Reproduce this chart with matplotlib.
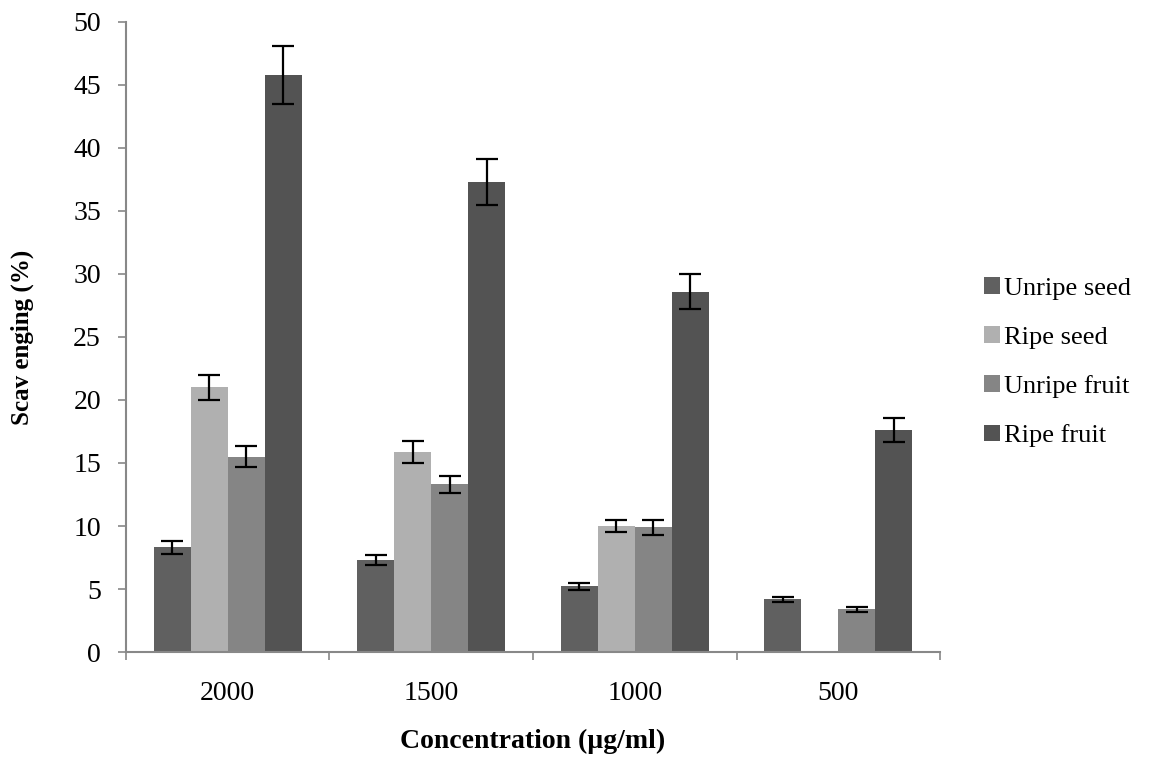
import numpy as np
import matplotlib
matplotlib.use('Agg')
import matplotlib.pyplot as plt

# Данные
concentrations = ['2000', '1500', '1000', '500']
series_names = ['Unripe seed', 'Ripe seed', 'Unripe fruit', 'Ripe fruit']
unripe_seed = [8.3, 7.3, 5.2, 4.2]
ripe_seed = [21.0, 15.9, 10.0, 0.0]
unripe_fruit = [15.5, 13.3, 9.9, 3.4]
ripe_fruit = [45.8, 37.3, 28.6, 17.6]
err_unripe_seed = [0.5, 0.4, 0.3, 0.2]
err_ripe_seed = [1.0, 0.87, 0.5, 0.0]
err_unripe_fruit = [0.85, 0.66, 0.58, 0.2]
err_ripe_fruit = [2.3, 1.8, 1.4, 0.94]

values = [unripe_seed, ripe_seed, unripe_fruit, ripe_fruit]
errors = [err_unripe_seed, err_ripe_seed, err_unripe_fruit, err_ripe_fruit]
colors = ['#606060', '#b0b0b0', '#858585', '#535353']

plt.rcParams['font.family'] = ['Liberation Serif', 'DejaVu Serif']

fig = plt.figure(figsize=(11.55, 7.61), dpi=100)
ax = fig.add_axes([0.109, 0.1432, 0.705, 0.828])

x = np.arange(len(concentrations))
width = 0.182
for i in range(len(series_names)):
    pos = x + (i - 1.5) * width
    vals = np.array(values[i])
    errs = np.array(errors[i])
    ax.bar(pos, vals, width, color=colors[i], label=series_names[i], zorder=2)
    mask = vals > 0
    ax.errorbar(pos[mask], vals[mask], yerr=errs[mask], fmt='none', ecolor='black',
                elinewidth=1.6, capsize=8, capthick=1.6, zorder=3)

ax.set_xlim(-0.5, 3.5)
ax.set_ylim(0, 50)
ax.set_yticks(np.arange(0, 51, 5))
ax.set_xticks(x)
ax.set_xticklabels(concentrations)
ax.set_xticks(np.arange(-0.5, 4.0, 1.0), minor=True)
ax.tick_params(axis='x', which='major', length=0, pad=21, labelsize=20)
ax.tick_params(axis='x', which='minor', length=6, color='#888888', width=1.2)
ax.tick_params(axis='y', length=6, color='#888888', width=1.2, labelsize=20, pad=12)

for side in ['top', 'right']:
    ax.spines[side].set_visible(False)
for side in ['left', 'bottom']:
    ax.spines[side].set_color('#888888')
    ax.spines[side].set_linewidth(1.5)

ax.set_ylabel('Scav enging (%)', fontsize=18, fontweight='bold', labelpad=28)
ax.set_xlabel('Concentration (\u00b5g/ml)', fontsize=20, fontweight='bold', labelpad=16)

ax.legend(loc='center left', bbox_to_anchor=(1.025, 0.46), frameon=False, fontsize=19,
          handlelength=0.6, handleheight=0.6, handletextpad=0.15, labelspacing=1.0)

fig.savefig('out.png', dpi=100)
